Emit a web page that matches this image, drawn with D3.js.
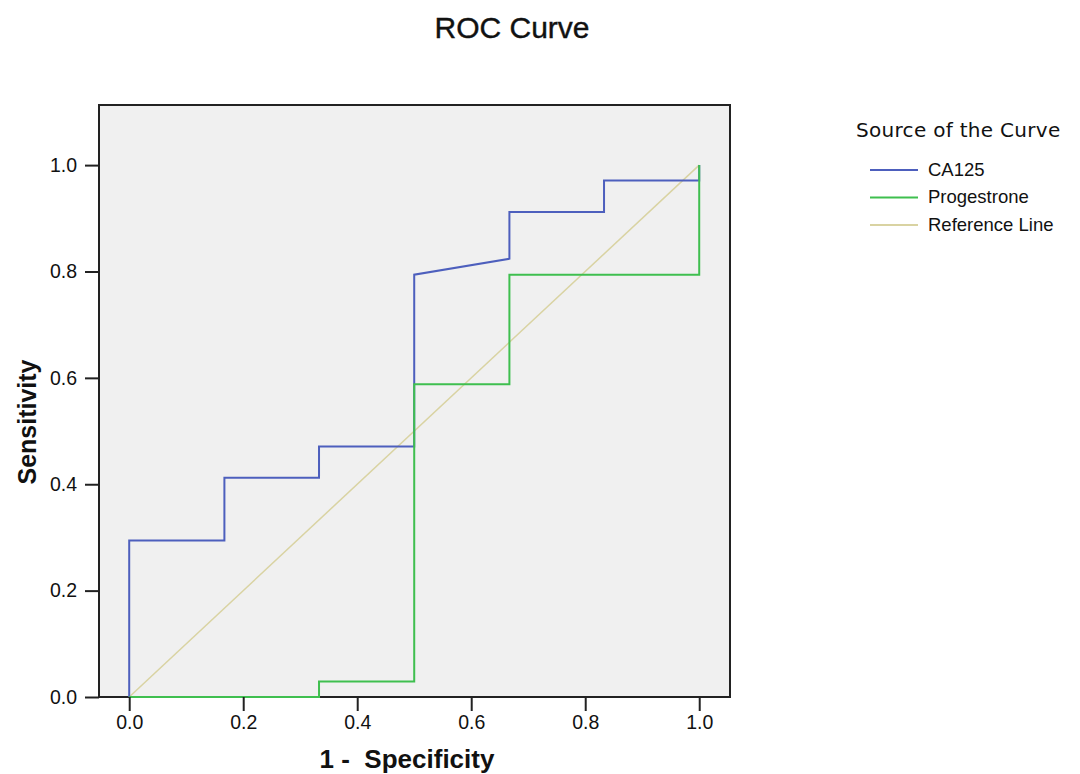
<!DOCTYPE html>
<html>
<head>
<meta charset="utf-8">
<script src="https://cdn.jsdelivr.net/npm/d3@7"></script>
<style>
  body { margin: 0; background: #fff; }
  text { font-family: Arial, "Liberation Sans", sans-serif; fill: #111; }
</style>
</head>
<body>
<svg id="chart" width="1080" height="774"></svg>
<script>
// data
var ca125X = [0, 0, 0.167, 0.167, 0.333, 0.333, 0.5, 0.5, 0.667, 0.667, 0.833, 0.833, 1, 1];
var ca125Y = [0, 0.294, 0.294, 0.412, 0.412, 0.471, 0.471, 0.794, 0.824, 0.912, 0.912, 0.971, 0.971, 1];
var progX = [0, 0.333, 0.333, 0.5, 0.5, 0.667, 0.667, 1, 1];
var progY = [0, 0, 0.029, 0.029, 0.588, 0.588, 0.794, 0.794, 1];
var refX = [0, 1];
var refY = [0, 1];
var tickVals = [0, 0.2, 0.4, 0.6, 0.8, 1.0];
var seriesNames = ["CA125", "Progestrone", "Reference Line"];
var seriesColors = ["#4d5fbd", "#3fbf4f", "#d9d3a2"];

var svg = d3.select("#chart");

var plotL = 99, plotR = 730, plotT = 105, plotB = 697;

var x = d3.scaleLinear().domain([-0.053, 1.054]).range([plotL, plotR]);
var y = d3.scaleLinear().domain([0, 1.113]).range([plotB, plotT]);

// plot background + frame
svg.append("rect")
  .attr("x", plotL).attr("y", plotT)
  .attr("width", plotR - plotL).attr("height", plotB - plotT)
  .style("fill", "#f0f0f0")
  .style("stroke", "#222")
  .style("stroke-width", 2);

function toPts(xs, ys) {
  return xs.map(function (v, i) { return [v, ys[i]]; });
}

var line = d3.line()
  .x(function (d) { return x(d[0]); })
  .y(function (d) { return y(d[1]); });

var series = [
  { name: seriesNames[2], pts: toPts(refX, refY), color: seriesColors[2], w: 1.5 },
  { name: seriesNames[0], pts: toPts(ca125X, ca125Y), color: seriesColors[0], w: 2 },
  { name: seriesNames[1], pts: toPts(progX, progY), color: seriesColors[1], w: 2 }
];

svg.selectAll("path.curve")
  .data(series).enter().append("path")
  .attr("class", "curve")
  .attr("d", function (d) { return line(d.pts); })
  .style("fill", "none")
  .style("stroke", function (d) { return d.color; })
  .style("stroke-width", function (d) { return d.w; });

// axes
var xAxis = d3.axisBottom(x).tickValues(tickVals)
  .tickFormat(d3.format(".1f")).tickSize(14).tickPadding(4);
var yAxis = d3.axisLeft(y).tickValues(tickVals)
  .tickFormat(d3.format(".1f")).tickSize(14).tickPadding(8);

var gx = svg.append("g").attr("transform", "translate(0," + plotB + ")").call(xAxis);
var gy = svg.append("g").attr("transform", "translate(" + plotL + ",0)").call(yAxis);

[gx, gy].forEach(function (g) {
  g.select(".domain").remove();
  g.selectAll(".tick line").style("stroke", "#222").style("stroke-width", 2);
  g.selectAll(".tick text")
    .style("font-size", "19.5px")
    .style("fill", "#111")
    .style("font-family", "Arial, 'Liberation Sans', sans-serif");
});

// titles
svg.append("text")
  .attr("x", 512).attr("y", 38)
  .attr("text-anchor", "middle")
  .style("font-size", "30px")
  .style("stroke", "#111").style("stroke-width", 0.4)
  .text("ROC Curve");

svg.append("text")
  .attr("x", 407).attr("y", 768)
  .attr("text-anchor", "middle")
  .style("font-size", "26px")
  .style("font-weight", "bold")
  .style("white-space", "pre")
  .text("1 -  Specificity");

svg.append("text")
  .attr("transform", "translate(36,422) rotate(-90)")
  .attr("text-anchor", "middle")
  .style("font-size", "25px")
  .style("font-weight", "bold")
  .text("Sensitivity");

// legend
var legend = svg.append("g");
legend.append("text")
  .attr("x", 856).attr("y", 137)
  .style("font-size", "20px")
  .style("font-family", "'DejaVu Sans', Verdana, sans-serif")
  .style("letter-spacing", "0.3px")
  .text("Source of the Curve");

var items = legend.selectAll("g.item")
  .data(seriesNames).enter().append("g")
  .attr("class", "item")
  .attr("transform", function (d, i) { return "translate(870," + (170 + i * 27.5) + ")"; });

items.append("line")
  .attr("x1", 0).attr("x2", 48)
  .style("stroke", function (d, i) { return seriesColors[i]; })
  .style("stroke-width", 2);

items.append("text")
  .attr("x", 58).attr("y", 0).attr("dy", "0.3em")
  .style("font-size", "18.5px")
  .text(function (d) { return d; });
</script>
</body>
</html>
